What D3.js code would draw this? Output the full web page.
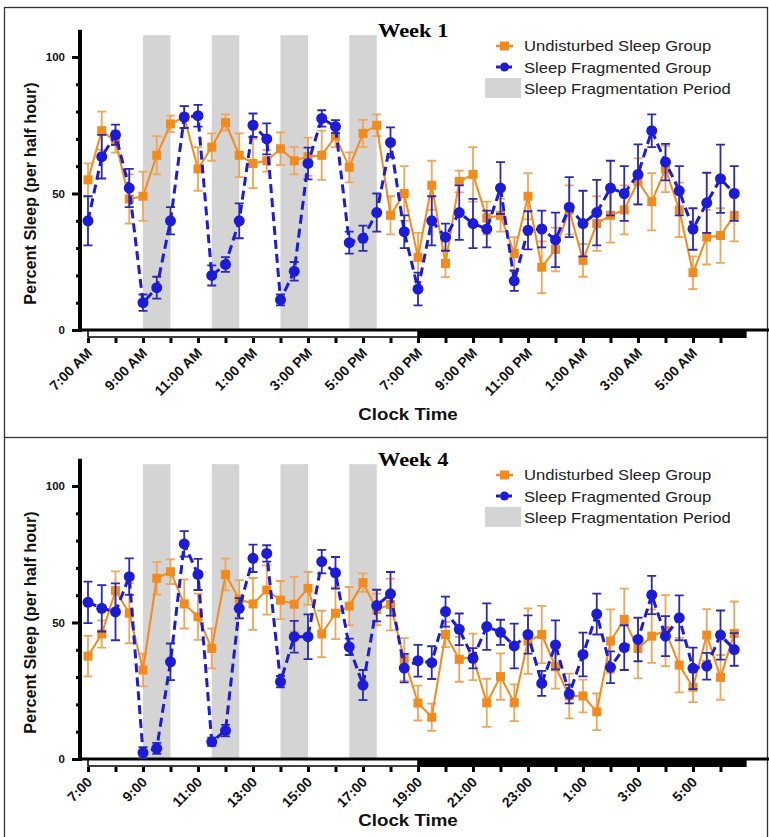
<!DOCTYPE html>
<html>
<head>
<meta charset="utf-8">
<script src="https://cdn.jsdelivr.net/npm/d3@7"></script>
<style>
  body { margin: 0; background: #fff; }
  svg { display: block; font-family: "Liberation Sans", Arial, sans-serif; }
</style>
</head>
<body>
<div id="chart"></div>
<script>
// half-hour bins, hours after 7:00
var halfHours = d3.range(48).map(function (i) { return i * 0.5; });

var week1Undisturbed = [55, 73, 69, 48, 49, 64, 75.5, 78, 59, 67, 76, 64, 61, 62, 66.4, 62, 63.5, 64, 71, 59.6, 72, 75, 42, 50,
    26.6, 53, 24.4, 54.4, 57, 41, 42, 28, 49, 23, 29.5, 44, 25.5, 39, 42, 44, 54.4, 47, 59, 44, 21, 34, 34.6, 42];
var week1UndisturbedErr = [6, 7, 4, 9, 9, 7, 3, 4, 8, 5, 3, 8, 9, 4, 6, 5, 7, 9, 4, 5.5, 5, 4, 7, 10,
    9, 9, 5, 4, 10, 6, 6, 6, 8.5, 9.5, 8, 9, 6, 10, 10, 9, 8.5, 10.5, 8.5, 10, 6, 10, 10, 9.5];
var week1Fragmented = [40, 63.5, 71.5, 52, 10, 15.5, 40, 78, 78.5, 20, 24, 40, 75, 70, 11, 21.5, 61, 77.5, 74.5, 32, 33.6, 43, 68.7, 36,
    15, 40, 34, 43, 39, 37, 52, 18, 36.5, 37, 33, 45, 39, 43, 52, 50, 57, 73, 61.5, 51, 37, 46.6, 55.4, 50];
var week1FragmentedErr = [9, 8, 3.7, 7, 3, 4, 5, 4, 4, 3.7, 2.7, 6.4, 4.3, 5.7, 2, 3.4, 5.8, 3, 2.4, 4, 4.6, 7, 5.5, 6,
    6, 9, 5, 10, 9, 6.7, 9.5, 3.7, 7, 6.7, 10, 11, 12, 12, 10, 10, 11, 6, 6.7, 9, 7.6, 11, 12.5, 10];

var week4Undisturbed = [37.7, 45.8, 61.7, 53.4, 32.6, 66.2, 68.6, 56.8, 52.1, 40.5, 67.6, 58.5, 56.8, 61.9, 58.2, 56.7, 62.5, 45.8, 53.4, 56, 64.6, 54.8, 56.6, 36.5,
    20.5, 15.3, 45.6, 36.5, 37.4, 20.6, 30.2, 20.6, 43.2, 45.6, 33.8, 23.1, 23.1, 17.3, 43.2, 51.1, 40.5, 45, 47, 34.4, 26.3, 45.4, 29.9, 46];
var week4UndisturbedErr = [7.4, 5, 7, 11, 6, 6, 4.5, 9, 8.5, 7.3, 5.8, 7, 9.5, 9, 7, 10, 6, 8.5, 9.5, 7, 3.4, 5.8, 9.5, 7.8,
    6.4, 5, 4.6, 8.2, 8.5, 8.8, 8.5, 6.7, 12, 10.5, 8, 8.2, 6, 6.7, 11.6, 11.3, 11, 9.8, 13, 10, 5.5, 9.5, 8.2, 11.7];
var week4Fragmented = [57.4, 55.2, 53.9, 66.8, 2.3, 3.9, 35.6, 78.8, 67.6, 6.3, 10.4, 55.2, 73.5, 75.3, 28.3, 44.8, 44.8, 72.3, 68.2, 41.1, 27.1, 56.2, 60.5, 33.3,
    36, 35.3, 54, 47.5, 36.9, 48.5, 46.4, 41.4, 45.6, 27.7, 41.8, 23.8, 38.3, 53.1, 33.6, 40.8, 43.8, 60.1, 45, 51.7, 33.2, 34, 45.4, 40.1];
var week4FragmentedErr = [7.6, 8.5, 10.4, 6.7, 2, 2, 6.7, 4.7, 5.7, 1.5, 2.1, 3.7, 5, 3, 2.1, 5.8, 8.2, 4.3, 5.8, 3, 5.5, 5.8, 8, 5.2,
    5.8, 6, 5.5, 5.8, 3.7, 8.5, 4.6, 8.2, 7, 4.6, 9, 3.4, 8, 7.5, 5.8, 8.2, 8, 7, 7.3, 8.2, 7.6, 4.9, 9, 6];

// fragmentation periods, hours after 7:00
var fragmentationPeriods = [[2, 3], [4.5, 5.5], [7, 8], [9.5, 10.5]];

var tickLabels12h = ['7:00 AM', '9:00 AM', '11:00 AM', '1:00 PM', '3:00 PM', '5:00 PM', '7:00 PM', '9:00 PM', '11:00 PM', '1:00 AM', '3:00 AM', '5:00 AM'];
var tickLabels24h = ['7:00', '9:00', '11:00', '13:00', '15:00', '17:00', '19:00', '21:00', '23:00', '1:00', '3:00', '5:00'];

var legendLabels = ['Undisturbed Sleep Group', 'Sleep Fragmented Group', 'Sleep Fragmentation Period'];

var ORANGE = '#f28b1d', ORANGE_ERR = '#efa65a', BLUE = '#1c1cd8', BLUE_ERR = '#2b2bb0', BAND = '#d4d4d4';

var panels = [
    { title: 'Week 1', offset: 0, labels: tickLabels12h, xTitleY: 420,
      undisturbed: week1Undisturbed, undisturbedErr: week1UndisturbedErr,
      fragmented: week1Fragmented, fragmentedErr: week1FragmentedErr },
    { title: 'Week 4', offset: 429, labels: tickLabels24h, xTitleY: 397,
      undisturbed: week4Undisturbed, undisturbedErr: week4UndisturbedErr,
      fragmented: week4Fragmented, fragmentedErr: week4FragmentedErr }
];

var svg = d3.select('#chart').append('svg')
    .attr('width', 769)
    .attr('height', 837);

// frames around the two panels
svg.append('rect')
    .attr('x', 4.5).attr('y', 7.5).attr('width', 763).attr('height', 430)
    .attr('fill', 'none').attr('stroke', '#333').attr('stroke-width', 1.3);
svg.append('path')
    .attr('d', 'M4.5,437.5 V837 M767.5,437.5 V837')
    .attr('fill', 'none').attr('stroke', '#333').attr('stroke-width', 1.3);

var x = d3.scaleLinear().domain([0, 24]).range([88, 748]);

panels.forEach(function (p) {
    drawPanel(svg.append('g').attr('transform', 'translate(0,' + p.offset + ')'), p);
});

// the source figure is slightly stretched sideways, so text gets a horizontal scale
function stretchedText(g, px, py, sx) {
    return g.append('g')
        .attr('transform', 'translate(' + px + ',' + py + ') scale(' + sx + ',1)')
        .append('text');
}

function drawPanel(g, p) {
    var y = d3.scaleLinear().domain([0, 100]).range([330, 57]);

    // fragmentation bands
    g.append('g').selectAll('rect')
        .data(fragmentationPeriods)
        .enter().append('rect')
        .attr('x', function (d) { return x(d[0]); })
        .attr('width', function (d) { return x(d[1]) - x(d[0]); })
        .attr('y', y(108))
        .attr('height', y(0) - y(108))
        .attr('fill', BAND);

    // light / dark bar under the axis
    g.append('rect')
        .attr('x', x(0)).attr('y', y(0)).attr('width', x(12) - x(0)).attr('height', 7)
        .attr('fill', '#fff').attr('stroke', '#000').attr('stroke-width', 1.5);
    g.append('rect')
        .attr('x', x(12)).attr('y', y(0)).attr('width', x(23.95) - x(12)).attr('height', 8)
        .attr('fill', '#000');
    g.append('line')
        .attr('x1', 80).attr('x2', 769).attr('y1', y(0)).attr('y2', y(0))
        .attr('stroke', '#000').attr('stroke-width', 3);

    // x axis ticks (hourly)
    var xAxis = d3.axisBottom(x)
        .tickValues(d3.range(0, 24))
        .tickSize(5)
        .tickFormat('');
    var xg = g.append('g')
        .attr('transform', 'translate(0,' + (y(0) + 8) + ')')
        .call(xAxis);
    xg.select('.domain').remove();
    xg.selectAll('.tick line').attr('stroke', '#000').attr('stroke-width', 3);

    // slanted labels every two hours
    g.append('g').selectAll('g.xlabel')
        .data(p.labels)
        .enter().append('g')
        .attr('class', 'xlabel')
        .attr('transform', function (d, i) {
            return 'translate(' + (x(i * 2) + 5) + ',' + (y(0) + 24) + ')';
        })
        .append('text')
        .attr('transform', 'rotate(-45)')
        .attr('text-anchor', 'end')
        .attr('fill', '#111')
        .attr('font-size', 14)
        .attr('font-weight', 'bold')
        .text(function (d) { return d; });

    // y axis
    var yAxis = d3.axisLeft(y)
        .tickValues(d3.range(0, 101, 10))
        .tickSize(0)
        .tickFormat(function (d) { return d % 50 === 0 ? d : ''; });
    var yg = g.append('g').attr('transform', 'translate(80,0)').call(yAxis);
    yg.select('.domain').remove();
    yg.selectAll('.tick line')
        .attr('x2', function (d) { return d % 50 === 0 ? -8 : -4; })
        .attr('stroke', '#000').attr('stroke-width', 3);
    yg.selectAll('.tick text')
        .attr('x', -15)
        .attr('fill', '#111')
        .attr('font-size', 11.5)
        .attr('font-weight', 'bold');
    g.append('line')
        .attr('x1', 80).attr('x2', 80).attr('y1', y(110)).attr('y2', y(0) + 2)
        .attr('stroke', '#000').attr('stroke-width', 4);

    // axis titles
    stretchedText(g, 408, p.xTitleY, 1.17)
        .attr('text-anchor', 'middle')
        .attr('font-size', 16).attr('font-weight', 'bold').attr('fill', '#111')
        .text('Clock Time');
    g.append('text')
        .attr('transform', 'translate(36,' + y(50) + ') rotate(-90)')
        .attr('text-anchor', 'middle')
        .attr('font-size', 16.3).attr('font-weight', 'bold').attr('fill', '#111')
        .text('Percent Sleep (per half hour)');

    stretchedText(g, 378, 37, 1.15)
        .attr('font-family', '"Liberation Serif", "Times New Roman", serif')
        .attr('font-size', 19.5).attr('font-weight', 'bold')
        .text(p.title);

    drawSeries(g, y, p.undisturbed, p.undisturbedErr, ORANGE, ORANGE_ERR, false);
    drawSeries(g, y, p.fragmented, p.fragmentedErr, BLUE, BLUE_ERR, true);

    drawLegend(g);
}

function drawSeries(g, y, values, errs, color, errColor, fragmented) {
    var pts = values.map(function (v, i) { return { t: halfHours[i], v: v, e: errs[i] }; });
    var s = g.append('g');

    // error bars with caps
    s.append('g').selectAll('path')
        .data(pts)
        .enter().append('path')
        .attr('d', function (d) {
            var cx = x(d.t), top = y(d.v + d.e), bot = y(Math.max(0, d.v - d.e));
            return 'M' + cx + ',' + top + 'V' + bot +
                'M' + (cx - 4.5) + ',' + top + 'H' + (cx + 4.5) +
                'M' + (cx - 4.5) + ',' + bot + 'H' + (cx + 4.5);
        })
        .attr('fill', 'none')
        .attr('stroke', errColor)
        .attr('stroke-width', 1.8);

    var line = d3.line()
        .x(function (d) { return x(d.t); })
        .y(function (d) { return y(d.v); });
    s.append('path')
        .datum(pts)
        .attr('d', line)
        .attr('fill', 'none')
        .attr('stroke', color)
        .attr('stroke-width', fragmented ? 3 : 2)
        .attr('stroke-dasharray', fragmented ? '9,5' : null);

    if (fragmented) {
        s.append('g').selectAll('circle')
            .data(pts)
            .enter().append('circle')
            .attr('cx', function (d) { return x(d.t); })
            .attr('cy', function (d) { return y(d.v); })
            .attr('r', 5.5)
            .attr('fill', color);
    } else {
        s.append('g').selectAll('rect')
            .data(pts)
            .enter().append('rect')
            .attr('x', function (d) { return x(d.t) - 4.5; })
            .attr('y', function (d) { return y(d.v) - 4.5; })
            .attr('width', 9).attr('height', 9)
            .attr('fill', color);
    }
}

function drawLegend(g) {
    var lg = g.append('g');
    // orange square
    lg.append('line').attr('x1', 496).attr('x2', 513).attr('y1', 46).attr('y2', 46)
        .attr('stroke', ORANGE).attr('stroke-width', 2.5);
    lg.append('rect').attr('x', 500).attr('y', 41.5).attr('width', 9).attr('height', 9).attr('fill', ORANGE);
    // blue circle, dashed
    lg.append('line').attr('x1', 496).attr('x2', 513).attr('y1', 67).attr('y2', 67)
        .attr('stroke', BLUE).attr('stroke-width', 3).attr('stroke-dasharray', '4,2');
    lg.append('circle').attr('cx', 504.5).attr('cy', 67).attr('r', 4.5).attr('fill', BLUE);
    // band swatch
    lg.append('rect').attr('x', 485).attr('y', 78).attr('width', 36).attr('height', 20).attr('fill', BAND);

    legendLabels.forEach(function (label, i) {
        stretchedText(lg, 524, 51 + i * 21.5, 1.17)
            .attr('font-size', 14.2)
            .attr('fill', '#222')
            .text(label);
    });
}
</script>
</body>
</html>
